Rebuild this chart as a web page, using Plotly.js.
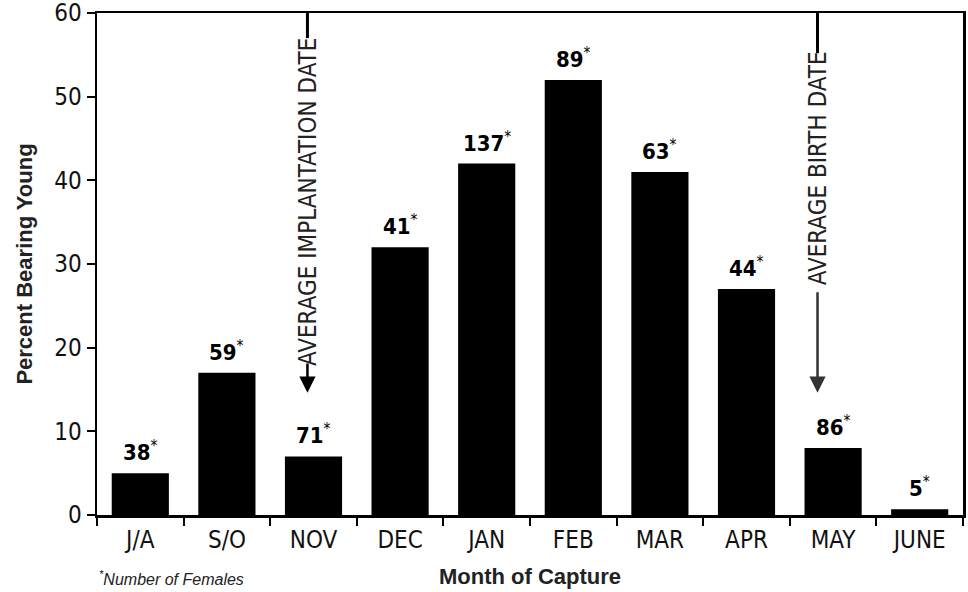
<!DOCTYPE html>
<html>
<head>
<meta charset="utf-8">
<script src="https://cdn.plot.ly/plotly-3.0.1.min.js"></script>
<style>html,body{margin:0;padding:0;background:#fff;}#chart{width:968px;height:592px;}</style>
</head>
<body>
<div id="chart"></div>
<script>
const months = ["J/A","S/O","NOV","DEC","JAN","FEB","MAR","APR","MAY","JUNE"];
const percentBearing = [5, 17, 7, 32, 42, 52, 41, 27, 8, 0.7];
const numberOfFemales = [38, 59, 71, 41, 137, 89, 63, 44, 86, 5];
const yTicks = [0, 10, 20, 30, 40, 50, 60];

const narrow = '"DejaVu Sans Condensed", "Liberation Sans Narrow", "Arial Narrow", sans-serif';
const boldFont = '"Liberation Sans", Arial, Helvetica, sans-serif';

const trace = {
  type: 'bar',
  x: months,
  y: percentBearing,
  marker: {color: '#000', line: {width: 0}},
  cliponaxis: false,
  hoverinfo: 'none'
};

const barLabels = months.map((m, i) => ({
  xref: 'x', yref: 'y', x: m, y: percentBearing[i],
  text: '<b>' + numberOfFemales[i] + '</b><sup>*</sup>',
  showarrow: false, xanchor: 'center', yanchor: 'bottom', yshift: 6,
  font: {family: narrow, size: 22, color: '#000'}
}));

const layout = {
  width: 968, height: 592,
  margin: {l: 97, r: 5, t: 13, b: 77},
  paper_bgcolor: '#fff', plot_bgcolor: '#fff',
  bargap: 0.34,
  showlegend: false,
  xaxis: {
    type: 'category',
    range: [-0.5, 9.5],
    tickson: 'boundaries',
    ticks: 'outside', ticklen: 8, tickwidth: 2, tickcolor: '#000',
    ticklabelstandoff: 2,
    showline: true, linecolor: '#000', linewidth: 2.5, mirror: true,
    showgrid: false, zeroline: false,
    tickfont: {family: narrow, size: 24, color: '#111'},
    title: {text: '<b>Month of Capture</b>', font: {family: boldFont, size: 22, color: '#222'}, standoff: 16}
  },
  yaxis: {
    range: [0, 60],
    tickvals: yTicks,
    ticks: 'outside', ticklen: 8, tickwidth: 2, tickcolor: '#000',
    showline: true, linecolor: '#000', linewidth: 2.5, mirror: true,
    showgrid: false, zeroline: false,
    ticklabeloverflow: 'allow',
    tickfont: {family: narrow, size: 24, color: '#111'},
    title: {text: '<b>Percent Bearing Young</b>', font: {family: boldFont, size: 22, color: '#222'}, standoff: 16}
  },
  shapes: [
    {type: 'line', xref: 'x', yref: 'y', x0: 1.93, x1: 1.93, y0: 60, y1: 57.0, line: {color: '#000', width: 3}},
    {type: 'line', xref: 'x', yref: 'y', x0: 7.82, x1: 7.82, y0: 60, y1: 55.2, line: {color: '#000', width: 3}}
  ],
  annotations: barLabels.concat([
    {xref: 'x', yref: 'y', x: 1.93, y: 57.3, text: 'AVERAGE IMPLANTATION DATE', textangle: -90,
     showarrow: false, yanchor: 'top', xanchor: 'center', font: {family: narrow, size: 24, color: '#222'}},
    {xref: 'x', yref: 'y', x: 1.93, y: 14.6, ax: 1.93, ay: 18.3, axref: 'x', ayref: 'y', text: '',
     showarrow: true, arrowhead: 2, arrowsize: 1.3, arrowwidth: 2.5, arrowcolor: '#000'},
    {xref: 'x', yref: 'y', x: 7.82, y: 55.6, text: 'AVERAGE BIRTH DATE', textangle: -90,
     showarrow: false, yanchor: 'top', xanchor: 'center', font: {family: narrow, size: 24, color: '#222'}},
    {xref: 'x', yref: 'y', x: 7.82, y: 14.6, ax: 7.82, ay: 26.8, axref: 'x', ayref: 'y', text: '',
     showarrow: true, arrowhead: 2, arrowsize: 1.3, arrowwidth: 2.5, arrowcolor: '#333'},
    {xref: 'paper', yref: 'paper', x: 0.0, y: -0.125, xanchor: 'left', yanchor: 'middle', showarrow: false,
     text: '<i><sup>*</sup>Number of Females</i>', font: {family: boldFont, size: 16, color: '#222'}}
  ])
};

Plotly.newPlot('chart', [trace], layout, {displayModeBar: false, staticPlot: true});
</script>
</body>
</html>
